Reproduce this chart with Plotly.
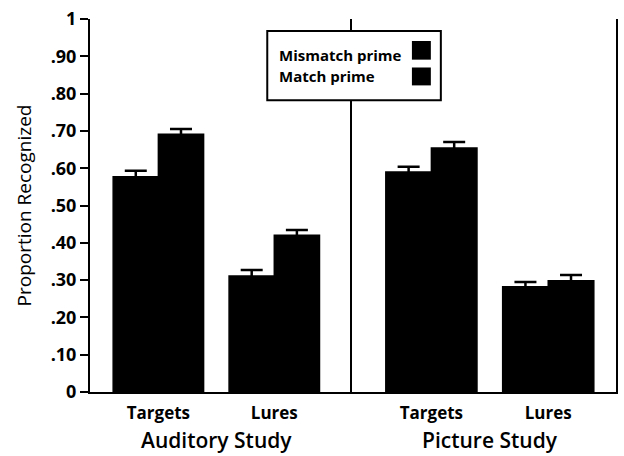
import plotly.graph_objects as go
from plotly.subplots import make_subplots

# ---- data ----
studies = ["Auditory Study", "Picture Study"]
item_types = ["Targets", "Lures"]
series_names = ["Mismatch prime", "Match prime"]
series_colors = ["#000000", "#000000"]

# values per study and series -> [Targets, Lures]
auditory_mismatch = [0.577, 0.311]
auditory_match = [0.691, 0.420]
picture_mismatch = [0.590, 0.282]
picture_match = [0.654, 0.298]

auditory_mismatch_err = [0.016, 0.016]
auditory_match_err = [0.014, 0.014]
picture_mismatch_err = [0.014, 0.013]
picture_match_err = [0.016, 0.016]

y_tickvals = [0, 0.1, 0.2, 0.3, 0.4, 0.5, 0.6, 0.7, 0.8, 0.9, 1.0]
y_ticktext = ["0", ".10", ".20", ".30", ".40", ".50", ".60", ".70", ".80", ".90", "1"]

FONT = "Open Sans"

fig = make_subplots(rows=1, cols=2, shared_yaxes=True, horizontal_spacing=0)

panels = [
    (1, [auditory_mismatch, auditory_match], [auditory_mismatch_err, auditory_match_err]),
    (2, [picture_mismatch, picture_match], [picture_mismatch_err, picture_match_err]),
]
for col, vals, errs in panels:
    for name, color, v, e in zip(series_names, series_colors, vals, errs):
        fig.add_trace(
            go.Bar(
                x=item_types, y=v, name=name, marker=dict(color=color, line=dict(width=1.5, color=color)),
                error_y=dict(type="data", array=e, visible=True, color="black", thickness=2.5, width=11),
                showlegend=False,
            ),
            row=1, col=col,
        )

fig.update_layout(
    width=624, height=456,
    margin=dict(l=90, r=6, t=16, b=64),
    paper_bgcolor="white", plot_bgcolor="white",
    barmode="group", bargap=0.22, bargroupgap=0,
    font=dict(family=FONT, color="black"),
)

fig.update_xaxes(domain=[0, 0.498], range=[-0.59, 1.67], row=1, col=1)
fig.update_xaxes(domain=[0.498, 1], range=[-0.68, 1.58], row=1, col=2)
fig.update_xaxes(
    showline=True, linecolor="black", linewidth=2, ticks="", showgrid=False,
    tickfont=dict(family=FONT, size=17, color="black", weight="bold"),
    ticklabelstandoff=5,
)
fig.update_yaxes(
    range=[0, 1], showgrid=False, zeroline=False,
    showline=True, linecolor="black", linewidth=2,
)
fig.update_yaxes(
    tickvals=y_tickvals, ticktext=y_ticktext, ticks="outside", ticklen=8, tickwidth=2, tickcolor="black",
    tickfont=dict(family=FONT, size=18, color="black", weight="bold"),
    title=dict(text="Proportion Recognized", font=dict(family=FONT, size=19, color="black"), standoff=14),
    mirror=False,
    row=1, col=1,
)
fig.update_yaxes(ticks="", showticklabels=False, mirror=True, row=1, col=2)

# group titles
for i, s in enumerate(studies):
    fig.add_annotation(
        x=0.5, xref="x" if i == 0 else "x2", y=-0.128, yref="paper",
        text=s, showarrow=False, font=dict(family=FONT, size=21, color="black", weight=600),
        xanchor="center", yanchor="middle",
    )

# custom legend (squares to the right of the labels)
fig.add_shape(type="rect", xref="paper", yref="paper", x0=0.337, x1=0.667, y0=0.782, y1=0.968,
              fillcolor="white", line=dict(color="black", width=2), layer="above")
leg_y = [0.904, 0.848]
sq_y = [(0.891, 0.941), (0.822, 0.870)]
for name, color, ty, (y0, y1) in zip(series_names, series_colors, leg_y, sq_y):
    fig.add_annotation(x=0.356, y=ty, xref="paper", yref="paper", text=name, showarrow=False,
                       xanchor="left", yanchor="middle",
                       font=dict(family=FONT, size=15, color="black", weight="bold"))
    fig.add_shape(type="rect", xref="paper", yref="paper", x0=0.612, x1=0.648, y0=y0, y1=y1,
                  fillcolor=color, line=dict(color=color, width=0), layer="above")

fig.write_html("out.html", config={"displayModeBar": False},
               post_script="document.body.style.margin='0';")
